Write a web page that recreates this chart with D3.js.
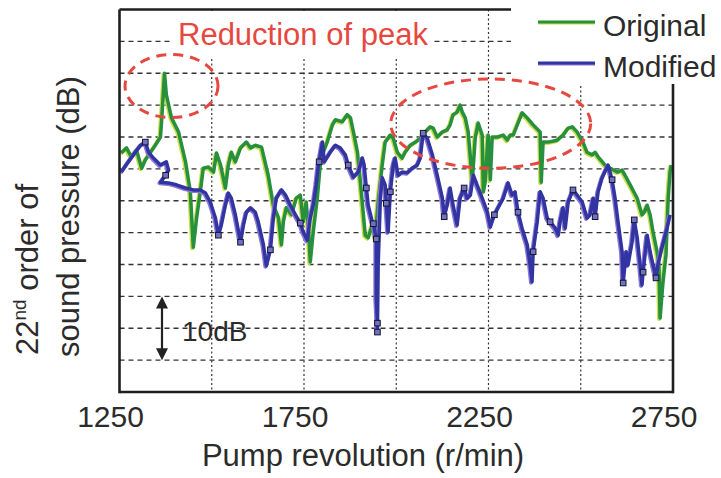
<!DOCTYPE html>
<html><head><meta charset="utf-8">
<script src="https://cdn.jsdelivr.net/npm/d3@7"></script>
<style>
body{margin:0;background:#fff}
svg{display:block}
text{font-family:"Liberation Sans",Arial,Helvetica,sans-serif}
</style>
</head><body>
<svg id="c" width="721" height="478"></svg>
<script>
// ---------- data ----------
const seriesNames = ["Original", "Modified"];
const xTickLabels = [1250, 1750, 2250, 2750];
const xGridValues = [1500, 1750, 2000, 2250, 2500];
const yGridValues = [5, 10, 15, 20, 25, 30, 35, 40, 45, 50, 55];
const scaleBarDb = [15, 5]; // "10dB" arrow from/to (relative dB)

// Original: [pump revolution r/min, relative sound pressure dB]
const originalSeries = [
[1255,37.5],[1269,38.3],[1282,36.9],[1296,38.0],[1310,35.1],[1320,36.4],[1334,37.6],[1347,38.7],[1361,40.0],[1364,42.4],
[1372,50.0],[1377,46.6],[1391,43.0],[1410,40.8],[1429,36.1],[1442,31.4],[1450,22.7],[1459,27.3],[1469,31.4],[1477,35.1],
[1491,35.3],[1505,34.5],[1513,37.5],[1524,35.6],[1537,32.0],[1545,35.6],[1553,37.6],[1564,36.1],[1578,38.3],[1594,39.2],
[1605,38.3],[1618,38.7],[1635,38.4],[1653,34.0],[1667,29.3],[1681,27.3],[1689,23.1],[1694,26.7],[1702,28.9],[1716,27.8],
[1729,30.4],[1740,30.9],[1748,26.7],[1756,29.8],[1762,25.7],[1767,20.4],[1775,25.1],[1786,30.4],[1794,35.6],[1802,37.6],
[1813,39.2],[1827,41.9],[1835,42.7],[1854,42.4],[1867,43.5],[1876,43.0],[1884,40.8],[1895,37.6],[1903,32.9],[1911,27.8],
[1916,24.6],[1924,24.2],[1935,26.2],[1943,24.2],[1951,29.8],[1962,35.6],[1970,39.2],[1984,40.3],[1992,39.8],[2003,37.6],
[2016,36.7],[2024,37.6],[2038,38.7],[2052,39.2],[2065,39.8],[2079,40.8],[2092,41.6],[2100,41.4],[2111,40.0],[2125,40.8],
[2138,41.1],[2146,41.9],[2154,43.5],[2165,43.9],[2173,45.0],[2179,43.9],[2187,43.0],[2195,40.8],[2201,36.7],[2206,32.9],
[2209,35.6],[2214,39.8],[2222,42.2],[2233,40.3],[2236,31.4],[2241,32.9],[2249,40.3],[2255,33.3],[2260,40.0],[2274,40.0],
[2290,40.3],[2301,39.5],[2309,40.3],[2317,40.3],[2328,41.9],[2341,43.8],[2355,43.0],[2371,41.9],[2390,40.8],[2393,32.9],
[2398,39.2],[2412,39.2],[2436,39.5],[2452,40.3],[2466,41.4],[2477,41.6],[2490,40.8],[2506,39.2],[2517,37.6],[2531,37.2],
[2539,37.6],[2547,36.9],[2566,35.6],[2580,35.1],[2599,34.5],[2612,34.8],[2620,34.0],[2634,32.5],[2653,30.4],[2666,27.8],
[2672,28.2],[2680,29.3],[2688,27.8],[2696,25.1],[2707,22.0],[2712,19.9],[2715,11.6],[2723,17.3],[2731,21.5],[2737,30.4],
[2742,34.5],[2745,35.6]
];

// Modified
const modifiedSeries = [
[1255,34.5],[1274,36.1],[1293,37.6],[1307,38.7],[1320,39.2],[1329,37.6],[1342,36.7],[1361,35.6],[1377,36.1],[1383,34.8],
[1375,34.0],[1361,32.9],[1383,32.8],[1404,32.5],[1429,32.0],[1450,31.7],[1469,31.7],[1483,31.2],[1496,29.8],[1510,27.3],
[1518,24.6],[1526,26.2],[1537,29.3],[1545,31.2],[1553,30.4],[1564,27.8],[1578,23.5],[1586,26.2],[1594,28.2],[1605,28.9],
[1618,28.2],[1626,26.7],[1640,23.1],[1648,19.8],[1659,22.3],[1667,27.3],[1675,30.4],[1689,31.7],[1700,30.9],[1713,29.3],
[1727,27.8],[1740,26.5],[1748,25.1],[1759,23.8],[1767,27.3],[1775,29.3],[1783,32.5],[1789,35.6],[1791,36.1],[1800,39.2],
[1805,36.1],[1821,37.6],[1835,38.7],[1848,38.3],[1862,37.2],[1870,35.6],[1884,33.7],[1897,34.5],[1908,36.7],[1913,35.6],
[1919,32.0],[1924,29.3],[1935,26.7],[1938,26.4],[1946,24.0],[1946,14.7],[1949,10.8],[1949,9.4],[1951,19.9],[1957,30.4],
[1962,33.6],[1970,32.5],[1973,29.6],[1978,25.1],[1984,31.4],[1992,35.6],[1997,36.7],[2005,34.0],[2016,34.5],[2030,34.4],
[2043,35.1],[2057,35.6],[2065,36.7],[2073,40.6],[2084,39.8],[2098,37.2],[2111,34.0],[2125,30.4],[2130,27.5],[2138,29.3],
[2146,32.0],[2154,29.3],[2165,26.2],[2173,30.4],[2184,32.0],[2192,30.4],[2201,30.9],[2209,34.0],[2219,32.5],[2233,30.4],
[2247,28.2],[2255,25.9],[2266,27.8],[2276,28.9],[2290,30.4],[2303,32.8],[2314,30.9],[2322,31.4],[2330,28.2],[2341,25.7],
[2355,23.1],[2363,19.9],[2368,17.3],[2371,22.0],[2382,26.7],[2390,31.4],[2398,30.4],[2409,27.3],[2417,26.7],[2431,25.7],
[2439,24.6],[2444,26.7],[2452,28.9],[2458,25.7],[2466,29.8],[2479,31.7],[2490,30.9],[2504,29.8],[2517,27.3],[2525,27.8],
[2534,30.4],[2539,27.5],[2547,31.4],[2558,33.6],[2574,35.6],[2585,33.3],[2593,30.4],[2601,26.7],[2612,22.0],[2615,17.1],
[2623,22.0],[2628,19.9],[2639,23.5],[2645,27.0],[2653,24.2],[2661,19.9],[2666,16.8],[2669,18.8],[2680,24.6],[2688,22.0],
[2696,19.9],[2704,17.9],[2709,19.9],[2720,22.6],[2734,25.7],[2742,27.8]
];

// square markers on the Modified curve
const modifiedMarkers = [
[1320,39.2],[1375,34.0],[1518,24.6],[1578,23.5],[1659,22.3],[1740,26.5],[1791,36.1],[1870,35.6],[1919,32.0],[1938,26.4],
[1946,24.0],[1949,10.8],[1949,9.4],[1973,29.6],[1984,31.4],[2073,40.6],[2130,27.5],[2184,32.0],[2266,27.8],[2330,28.2],
[2371,22.0],[2417,26.7],[2479,31.7],[2539,27.5],[2585,33.3],[2615,17.1],[2645,27.0],[2669,18.8],[2704,17.9]
];

// dashed ellipses marking the "Reduction of peak" regions: [rpm centre, dB centre, rpm radius, dB radius]
const peakRegions = [
[1391, 48.0, 126, 4.95],
[2256, 42.1, 271, 7.0]
];

// ---------- drawing ----------
const svg = d3.select("#c");
const x = d3.scaleLinear().domain([1250, 2750]).range([119.5, 673]);
const y = d3.scaleLinear().domain([0, 60]).range([392, 9.5]);
const colors = { Original: "#26903f", Modified: "#3234a2" };
const fringe = { Original: "#c9dd48", Modified: "#8a78d4" };
const red = "#e6483f";
const ink = "#2b2b2b";

// gridlines
svg.append("g").selectAll("line").data(yGridValues).join("line")
  .attr("x1", x(1250)).attr("x2", x(2750))
  .attr("y1", d => y(d)).attr("y2", d => y(d))
  .attr("stroke", "#333").attr("stroke-width", 1.4).attr("stroke-dasharray", "5,4");
svg.append("g").selectAll("line").data(xGridValues).join("line")
  .attr("x1", d => x(d)).attr("x2", d => x(d))
  .attr("y1", y(60)).attr("y2", y(0))
  .attr("stroke", "#333").attr("stroke-width", 1.2).attr("stroke-dasharray", "2,2.5");

// lines
const line = d3.line().x(d => x(d[0])).y(d => y(d[1]));
const seriesData = { Original: originalSeries, Modified: modifiedSeries };
seriesNames.forEach(name => {
  svg.append("path").datum(seriesData[name])
    .attr("d", line).attr("fill", "none")
    .attr("stroke", fringe[name]).attr("stroke-width", 4)
    .attr("stroke-linejoin", "round")
    .attr("transform", "translate(-1,1)");
  svg.append("path").datum(seriesData[name])
    .attr("d", line).attr("fill", "none")
    .attr("stroke", colors[name]).attr("stroke-width", 3.5)
    .attr("stroke-linejoin", "round");
});
svg.append("g").selectAll("rect").data(modifiedMarkers).join("rect")
  .attr("x", d => x(d[0]) - 2.8).attr("y", d => y(d[1]) - 2.8)
  .attr("width", 5.6).attr("height", 5.6)
  .attr("fill", "#7072c2").attr("stroke", "#15152e").attr("stroke-width", 1);

// frame
const frame = svg.append("g").attr("stroke", "#1e1e1e").attr("stroke-width", 2.6);
frame.append("line").attr("x1", x(1250)).attr("x2", x(1250)).attr("y1", y(60)).attr("y2", y(0) + 1.3);
frame.append("line").attr("x1", x(1250)).attr("x2", x(2750)).attr("y1", y(0)).attr("y2", y(0));
frame.append("line").attr("x1", x(1250)).attr("x2", x(2750)).attr("y1", y(60)).attr("y2", y(60));
frame.append("line").attr("x1", x(2750)).attr("x2", x(2750)).attr("y1", y(60)).attr("y2", y(0) + 1.3);

// annotation background boxes
svg.append("rect").attr("x", 172).attr("y", y(60) + 1.5).attr("width", 261).attr("height", 46).attr("fill", "#fff");
svg.append("rect").attr("x", 511).attr("y", 0).attr("width", 210).attr("height", 84).attr("fill", "#fff");

// ellipses
svg.append("g").selectAll("ellipse").data(peakRegions).join("ellipse")
  .attr("cx", d => x(d[0])).attr("cy", d => y(d[1]))
  .attr("rx", d => x(d[0] + d[2]) - x(d[0]))
  .attr("ry", d => y(d[1] - d[3]) - y(d[1]))
  .attr("fill", "none").attr("stroke", red).attr("stroke-width", 3)
  .attr("stroke-dasharray", "10,7");

svg.append("text").attr("x", 178).attr("y", 45).attr("font-size", 31).attr("fill", red)
  .text("Reduction of peak");

// legend
seriesNames.forEach((name, i) => {
  const ly = i === 0 ? 22 : 63;
  svg.append("line").attr("x1", 538).attr("x2", 595).attr("y1", ly + 0.9).attr("y2", ly + 0.9)
    .attr("stroke", fringe[name]).attr("stroke-width", 3);
  svg.append("line").attr("x1", 538).attr("x2", 595).attr("y1", ly).attr("y2", ly)
    .attr("stroke", colors[name]).attr("stroke-width", 3);
  svg.append("text").attr("x", 603).attr("y", ly + 14).attr("font-size", 30).attr("fill", ink).text(name);
});

// 10 dB scale arrow
const ax = 162;
svg.append("line").attr("x1", ax).attr("x2", ax).attr("y1", y(scaleBarDb[0]) + 8).attr("y2", y(scaleBarDb[1]) - 8)
  .attr("stroke", "#222").attr("stroke-width", 2.2);
svg.append("path").attr("d", `M${ax},${y(scaleBarDb[0])} l-6,12 l12,0 z`).attr("fill", "#222");
svg.append("path").attr("d", `M${ax},${y(scaleBarDb[1])} l-6,-12 l12,0 z`).attr("fill", "#222");
svg.append("text").attr("x", 182).attr("y", 341).attr("font-size", 28).attr("fill", ink).text("10dB");

// x tick labels and title
svg.append("g").selectAll("text").data(xTickLabels).join("text")
  .attr("x", d => x(d) - 9).attr("y", 427).attr("text-anchor", "middle")
  .attr("font-size", 30).attr("fill", ink).text(d => d);
svg.append("text").attr("x", 363).attr("y", 466).attr("text-anchor", "middle")
  .attr("font-size", 31).attr("fill", ink).text("Pump revolution (r/min)");

// y title (two lines, rotated)
const t1 = svg.append("text").attr("transform", "translate(38,355) rotate(-90)")
  .attr("font-size", 31).attr("fill", ink);
t1.append("tspan").text("22");
t1.append("tspan").attr("font-size", 19).attr("dy", -12).text("nd");
t1.append("tspan").attr("dy", 12).text(" order of");
svg.append("text").attr("transform", "translate(79,357) rotate(-90)")
  .attr("font-size", 31).attr("fill", ink).text("sound pressure (dB)");
</script>
</body></html>
